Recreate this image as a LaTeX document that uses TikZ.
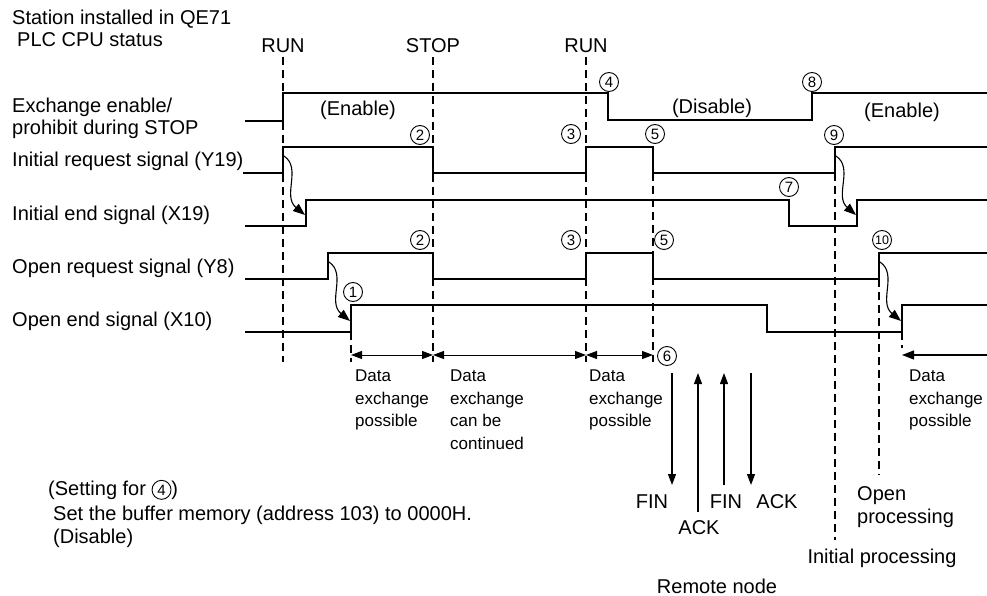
\documentclass[tikz,border=0pt]{standalone}
\usepackage{fontspec}
\setmainfont{Liberation Sans}
\usepackage{tikz}
\usetikzlibrary{arrows.meta}

\tikzset{stepno/.style={circle, draw, line width=0.9pt, minimum size=19pt, inner sep=0pt, font=\fontsize{15}{15}\selectfont}}
\newcommand{\stepmark}[1]{\tikz[baseline=(sm.base)]\node[stepno] (sm) {#1};}

\begin{document}
\begin{tikzpicture}[x=1pt, y=-1pt, >={Triangle[length=11pt,width=8pt]},
    sig/.style={line width=2.3pt},
    guide/.style={line width=1.2pt, dash pattern=on 8pt off 5pt},
    txt/.style={font=\fontsize{20}{23}\selectfont, inner sep=0pt},
    dtext/.style={font=\fontsize{17}{22.5}\selectfont, inner sep=0pt, align=left, anchor=north west},
    span/.style={line width=1pt, <->},
    hand/.style={line width=1.1pt, -{Triangle[length=12pt,width=9pt]}},
    wire/.style={line width=1.2pt}]
    \useasboundingbox (0,0) rectangle (987,596);

    % guide lines
    \draw[guide] (283,57) -- (283,362);
    \draw[guide] (433,57) -- (433,362);
    \draw[guide] (586,57) -- (586,362);
    \draw[guide] (653,173) -- (653,362);
    \draw[guide] (351,332) -- (351,362);
    \draw[guide] (835,173) -- (835,540);
    \draw[guide] (879,279) -- (879,475);
    \draw[guide] (902,332) -- (902,348);

    % signals
    \draw[sig] (245,121) -- (283,121) -- (283,93) -- (608,93) -- (608,120) -- (812,120) -- (812,93) -- (987,93);
    \draw[sig] (243,173) -- (283,173) -- (283,147) -- (433,147) -- (433,173) -- (586,173) -- (586,147) -- (653,147) -- (653,173) -- (835,173) -- (835,147) -- (987,147);
    \draw[sig] (245,226) -- (306,226) -- (306,200) -- (789,200) -- (789,226) -- (857,226) -- (857,200) -- (987,200);
    \draw[sig] (245,279) -- (328,279) -- (328,253) -- (433,253) -- (433,279) -- (586,279) -- (586,253) -- (653,253) -- (653,279) -- (879,279) -- (879,253) -- (987,253);
    \draw[sig] (245,332) -- (351,332) -- (351,305) -- (767,305) -- (767,332) -- (902,332) -- (902,305) -- (987,305);

    % left labels
    \node[txt, anchor=base west] (title1) at (12,25) {Station installed in QE71};
    \node[txt, anchor=base west] (title2) at (17,47) {PLC CPU status};
    \node[txt, anchor=base west] (exch1) at (12,113) {Exchange enable/};
    \node[txt, anchor=base west] (exch2) at (12,135) {prohibit during STOP};
    \node[txt, anchor=base west] (y19) at (12,167) {Initial request signal (Y19)};
    \node[txt, anchor=base west] (x19) at (12,220) {Initial end signal (X19)};
    \node[txt, anchor=base west] (y8) at (12,273) {Open request signal (Y8)};
    \node[txt, anchor=base west] (x10) at (12,326) {Open end signal (X10)};

    % CPU status
    \node[txt, anchor=base] (run1) at (283,53) {RUN};
    \node[txt, anchor=base] (stop) at (433,53) {STOP};
    \node[txt, anchor=base] (run2) at (586,53) {RUN};

    \node[txt, anchor=base] (en1) at (358,116) {(Enable)};
    \node[txt, anchor=base] (dis) at (712,114) {(Disable)};
    \node[txt, anchor=base] (en2) at (902,118) {(Enable)};

    % step numbers
    \node[stepno] (n1) at (353,292) {1};
    \node[stepno] (n2a) at (420,135) {2};
    \node[stepno] (n2b) at (420,240) {2};
    \node[stepno] (n3a) at (571,134) {3};
    \node[stepno] (n3b) at (571,240) {3};
    \node[stepno] (n4) at (609,82) {4};
    \node[stepno] (n5a) at (655,134) {5};
    \node[stepno] (n5b) at (664,240) {5};
    \node[stepno] (n6) at (667,356) {6};
    \node[stepno] (n7) at (789,187) {7};
    \node[stepno] (n8) at (812,82) {8};
    \node[stepno] (n9) at (834,135) {9};
    \node[stepno, font=\fontsize{12.5}{12.5}\selectfont] (n10) at (882,240) {10};

    % handshakes
    \coordinate (Y19a) at (284,156);
    \coordinate (X19a) at (305,215);
    \coordinate (Y19b) at (836,156);
    \coordinate (X19b) at (856,215);
    \coordinate (Y8a) at (329,262);
    \coordinate (X10a) at (350,321);
    \coordinate (Y8b) at (880,262);
    \coordinate (X10b) at (901,321);
    \draw[hand] (Y19a) .. controls (302,168) and (282,196) .. (X19a);
    \draw[hand] (Y19b) .. controls (854,168) and (834,196) .. (X19b);
    \draw[hand] (Y8a) .. controls (347,274) and (327,302) .. (X10a);
    \draw[hand] (Y8b) .. controls (898,274) and (878,302) .. (X10b);

    % exchange periods
    \coordinate (D1) at (351,355);
    \coordinate (D2) at (433,355);
    \coordinate (D3) at (586,355);
    \coordinate (D4) at (653,355);
    \coordinate (D5) at (902,355);
    \coordinate (D6) at (987,355);
    \draw[span] (D1) -- (D2);
    \draw[span] (D2) -- (D3);
    \draw[span] (D3) -- (D4);
    \draw[hand] (D6) -- (D5);

    \node[dtext] (ex1) at (355,370) {Data\\exchange\\possible};
    \node[dtext] (ex2) at (450,370) {Data\\exchange\\can be\\continued};
    \node[dtext] (ex3) at (589,370) {Data\\exchange\\possible};
    \node[dtext] (ex4) at (909,370) {Data\\exchange\\possible};

    % remote node
    \coordinate (R1t) at (672,373); \coordinate (R1b) at (672,485);
    \coordinate (R2t) at (698,373); \coordinate (R2b) at (698,512);
    \coordinate (R3t) at (724,373); \coordinate (R3b) at (724,485);
    \coordinate (R4t) at (751,373); \coordinate (R4b) at (751,485);
    \draw[wire, ->] (R1t) -- (R1b);
    \draw[wire, ->] (R2b) -- (R2t);
    \draw[wire, ->] (R3b) -- (R3t);
    \draw[wire, ->] (R4t) -- (R4b);
    \node[txt] (fin1) at (652,502) {FIN};
    \node[txt] (ack1) at (699,528) {ACK};
    \node[txt] (fin2) at (726,502) {FIN};
    \node[txt] (ack2) at (777,502) {ACK};
    \node[txt, anchor=base] (remote) at (717,593) {Remote node};

    \node[txt, anchor=north west, align=left] (openp) at (857,486) {Open\\processing};
    \node[txt, anchor=base] (initp) at (882,563) {Initial processing};

    % note
    \node[txt, anchor=base west] (note1) at (48,495) {(Setting for \stepmark{4})};
    \node[txt, anchor=base west] (note2) at (53,520) {Set the buffer memory (address 103) to 0000H.};
    \node[txt, anchor=base west] (note3) at (53,543) {(Disable)};
\end{tikzpicture}
\end{document}
